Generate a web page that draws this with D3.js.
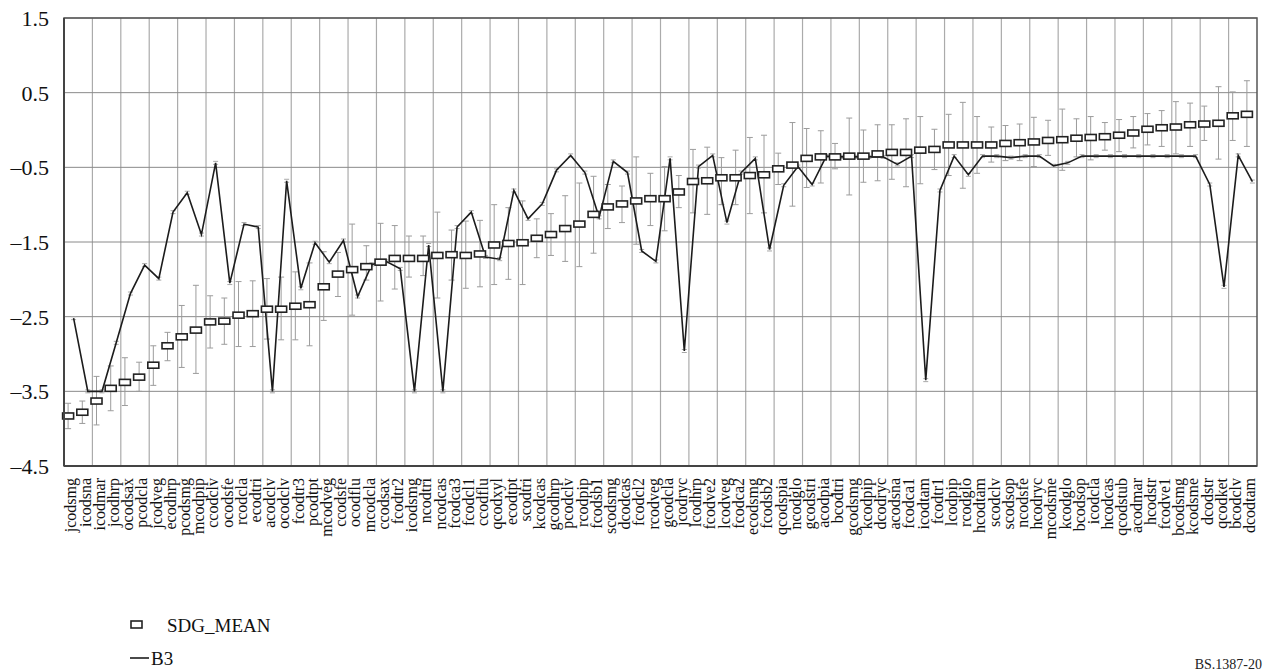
<!DOCTYPE html>
<html>
<head>
<meta charset="utf-8">
<script src="https://cdn.jsdelivr.net/npm/d3@7"></script>
<style>
  body { margin: 0; background: #fff; }
  svg { display: block; font-family: "Liberation Serif", "Times New Roman", serif; }
</style>
</head>
<body>
<svg id="chart" width="1266" height="671"></svg>
<script>
// category names along the x axis
const categories = ['jcodsmg', 'icodsna', 'icodmar', 'jcodhrp', 'ocodsax', 'pcodcla', 'jcodveg', 'ecodhrp', 'pcodsmg', 'mcodpip',
  'ccodclv', 'ocodsfe', 'rcodcla', 'ecodtri', 'acodclv', 'ocodclv', 'fcodtr3', 'pcodtpt', 'mcodveg', 'ccodsfe',
  'ocodflu', 'mcodcla', 'ccodsax', 'fcodtr2', 'icodsmg', 'ncodtri', 'ncodcas', 'fcodca3', 'fcodcl1', 'ccodflu',
  'qcodxyl', 'ecodtpt', 'scodtri', 'kcodcas', 'gcodhrp', 'pcodclv', 'rcodpip', 'fcodsb1', 'scodsmg', 'dcodcas',
  'fcodcl2', 'rcodveg', 'gcodcla', 'jcodryc', 'lcodhrp', 'fcodve2', 'lcodveg', 'fcodca2', 'ecodsmg', 'fcodsb2',
  'qcodspia', 'ncodglo', 'gcodstri', 'acodpia', 'bcodtri', 'gcodsmg', 'kcodpip', 'dcodryc', 'acodsna', 'fcodca1',
  'icodtam', 'fcodtr1', 'lcodpip', 'rcodglo', 'hcodtam', 'scodclv', 'scodsop', 'ncodsfe', 'hcodryc', 'mcodsme',
  'kcodglo', 'bcodsop', 'icodcla', 'hcodcas', 'qcodstub', 'acodmar', 'hcodstr', 'fcodve1', 'bcodsmg', 'kcodsme',
  'dcodstr', 'qcodket', 'bcodclv', 'dcodtam'];

// SDG_MEAN series (white boxes)
const sdgMean = [-3.83, -3.78, -3.63, -3.46, -3.38, -3.31, -3.15, -2.89, -2.77, -2.68,
  -2.57, -2.56, -2.48, -2.46, -2.40, -2.40, -2.36, -2.34, -2.10, -1.93,
  -1.87, -1.83, -1.77, -1.72, -1.72, -1.72, -1.68, -1.67, -1.68, -1.66,
  -1.54, -1.52, -1.51, -1.45, -1.40, -1.32, -1.26, -1.13, -1.03, -0.99,
  -0.95, -0.92, -0.92, -0.83, -0.69, -0.68, -0.64, -0.64, -0.61, -0.60,
  -0.52, -0.47, -0.38, -0.36, -0.36, -0.35, -0.35, -0.32, -0.30, -0.30,
  -0.27, -0.26, -0.20, -0.20, -0.20, -0.20, -0.18, -0.17, -0.16, -0.14,
  -0.13, -0.11, -0.10, -0.09, -0.07, -0.04, 0.01, 0.03, 0.04, 0.07,
  0.08, 0.09, 0.19, 0.21];

// upper and lower ends of the SDG_MEAN error bars
const errHigh = [-3.66, -3.63, -3.30, -3.16, -3.05, -3.11, -2.89, -2.71, -2.35, -2.08,
  -2.22, -2.25, -2.03, -2.02, -1.99, -1.97, -1.90, -1.78, -1.63, -1.64,
  -1.26, -1.55, -1.25, -1.28, -1.42, -1.42, -1.10, -1.34, -1.22, -1.21,
  -1.00, -1.04, -0.95, -1.19, -1.12, -0.88, -0.71, -0.62, -0.73, -0.75,
  -0.36, -0.58, -0.49, -0.61, -0.26, -0.23, -0.37, -0.27, -0.10, -0.07,
  -0.31, 0.10, 0.02, -0.01, -0.18, 0.16, 0.00, 0.07, 0.07, 0.15,
  0.18, 0.01, 0.21, 0.37, 0.18, 0.04, 0.06, 0.08, 0.17, 0.13,
  0.28, 0.15, 0.18, 0.10, 0.14, 0.18, 0.22, 0.26, 0.38, 0.36,
  0.32, 0.58, 0.51, 0.66];
const errLow = [-4.00, -3.93, -3.95, -3.76, -3.69, -3.50, -3.42, -3.09, -3.18, -3.26,
  -2.92, -2.87, -2.90, -2.90, -2.80, -2.81, -2.81, -2.89, -2.55, -2.23,
  -2.48, -2.01, -2.29, -2.13, -1.97, -1.95, -2.25, -2.01, -2.12, -2.10,
  -2.07, -2.00, -2.07, -1.71, -1.68, -1.76, -1.83, -1.65, -1.32, -1.24,
  -1.53, -1.28, -1.35, -1.04, -1.11, -1.13, -1.00, -1.00, -1.12, -1.11,
  -0.73, -1.02, -0.77, -0.71, -0.52, -0.87, -0.70, -0.68, -0.66, -0.76,
  -0.72, -0.53, -0.61, -0.78, -0.58, -0.43, -0.41, -0.41, -0.49, -0.34,
  -0.54, -0.36, -0.40, -0.27, -0.29, -0.24, -0.20, -0.22, -0.32, -0.22,
  -0.14, -0.39, -0.14, -0.22];

// B3 series (line)
const b3 = [-2.52, -3.50, -3.50, -2.85, -2.19, -1.81, -1.99, -1.10, -0.84, -1.40,
  -0.44, -2.05, -1.26, -1.30, -3.50, -0.68, -2.12, -1.51, -1.77, -1.48,
  -2.23, -1.80, -1.76, -1.86, -3.50, -1.54, -3.50, -1.30, -1.10, -1.70,
  -1.73, -0.81, -1.19, -0.99, -0.54, -0.34, -0.57, -1.17, -0.42, -0.57,
  -1.62, -1.76, -0.38, -2.96, -0.49, -0.34, -1.24, -0.57, -0.38, -1.60,
  -0.74, -0.49, -0.73, -0.35, -0.36, -0.36, -0.36, -0.36, -0.46, -0.35,
  -3.35, -0.81, -0.35, -0.60, -0.35, -0.35, -0.37, -0.35, -0.35, -0.48,
  -0.44, -0.35, -0.35, -0.35, -0.35, -0.35, -0.35, -0.35, -0.35, -0.35,
  -0.73, -2.10, -0.34, -0.69];

const yTicks = [1.5, 0.5, -0.5, -1.5, -2.5, -3.5, -4.5];
const seriesNames = ['SDG_MEAN', 'B3'];
const figureCode = 'BS.1387-20';

const plot = {left: 64, right: 1257, top: 18, bottom: 466};
const markShift = -3;  // boxes sit a little left of the band centre
const lineShift = 2.5; // line vertices a little right of it

const svg = d3.select('#chart');

const x = d3.scaleBand()
  .domain(categories)
  .range([plot.left, plot.right])
  .padding(0);

const y = d3.scaleLinear()
  .domain([-4.5, 1.5])
  .range([plot.bottom, plot.top]);

const mid = (c) => x(c) + x.bandwidth() / 2;

const rows = categories.map((c, i) => ({
  name: c, mean: sdgMean[i], hi: errHigh[i], lo: errLow[i], b3: b3[i]
}));

// vertical grid, one line every two categories
svg.append('g')
  .selectAll('line')
  .data(categories.filter((c, i) => i > 0 && i % 2 === 0))
  .join('line')
  .attr('x1', (c) => x(c)).attr('x2', (c) => x(c))
  .attr('y1', plot.top).attr('y2', plot.bottom)
  .attr('stroke', '#ababab')
  .attr('stroke-width', 1.2);

// horizontal grid
svg.append('g')
  .selectAll('line')
  .data(yTicks)
  .join('line')
  .attr('x1', plot.left).attr('x2', plot.right)
  .attr('y1', (d) => y(d)).attr('y2', (d) => y(d))
  .attr('stroke', '#8a8a8a')
  .attr('stroke-width', 1);

// y axis labels
svg.append('g')
  .selectAll('text')
  .data(yTicks)
  .join('text')
  .attr('x', 49)
  .attr('y', (d) => y(d))
  .attr('dy', '0.36em')
  .attr('text-anchor', 'end')
  .attr('font-size', 22)
  .attr('fill', '#111')
  .text((d) => (d < 0 ? '\u2013' : '') + d3.format('.1f')(Math.abs(d)));

// x axis labels, rotated
svg.append('g')
  .selectAll('text')
  .data(categories)
  .join('text')
  .attr('transform', (c) => `translate(${mid(c)},478) rotate(-90)`)
  .attr('dy', '0.33em')
  .attr('text-anchor', 'end')
  .attr('font-size', 16)
  .attr('fill', '#111')
  .text((c) => c);

// error bars of SDG_MEAN
const err = svg.append('g')
  .attr('stroke', '#9c9c9c')
  .attr('stroke-width', 1);

err.selectAll('.stem')
  .data(rows)
  .join('line')
  .attr('class', 'stem')
  .attr('x1', (d) => mid(d.name) + markShift).attr('x2', (d) => mid(d.name) + markShift)
  .attr('y1', (d) => y(d.hi)).attr('y2', (d) => y(d.lo));

['hi', 'lo'].forEach((k) => {
  err.selectAll('.cap-' + k)
    .data(rows)
    .join('line')
    .attr('class', 'cap-' + k)
    .attr('x1', (d) => mid(d.name) + markShift - 3).attr('x2', (d) => mid(d.name) + markShift + 3)
    .attr('y1', (d) => y(d[k])).attr('y2', (d) => y(d[k]));
});

// tiny caps on the B3 points
['-', '+'].forEach((s) => {
  svg.append('g')
    .selectAll('line')
    .data(rows)
    .join('line')
    .attr('x1', (d) => mid(d.name) + lineShift - 2.5).attr('x2', (d) => mid(d.name) + lineShift + 2.5)
    .attr('y1', (d) => y(d.b3) + (s === '-' ? 1.5 : -1.5))
    .attr('y2', (d) => y(d.b3) + (s === '-' ? 1.5 : -1.5))
    .attr('stroke', '#a8a8a8')
    .attr('stroke-width', 1);
});

// B3 line
const line = d3.line()
  .x((d) => mid(d.name) + lineShift)
  .y((d) => y(d.b3));

svg.append('path')
  .datum(rows)
  .attr('d', line)
  .attr('fill', 'none')
  .attr('stroke', '#1c1c1c')
  .attr('stroke-width', 1.6)
  .attr('stroke-linejoin', 'miter');

// SDG_MEAN boxes
svg.append('g')
  .selectAll('rect')
  .data(rows)
  .join('rect')
  .attr('x', (d) => mid(d.name) + markShift - 5.5)
  .attr('y', (d) => y(d.mean) - 3)
  .attr('width', 11)
  .attr('height', 6)
  .attr('fill', '#fff')
  .attr('stroke', '#222')
  .attr('stroke-width', 1.6);

// plot frame
svg.append('rect')
  .attr('x', plot.left).attr('y', plot.top)
  .attr('width', plot.right - plot.left).attr('height', plot.bottom - plot.top)
  .attr('fill', 'none')
  .attr('stroke', '#555')
  .attr('stroke-width', 1.5);
svg.append('line')
  .attr('x1', plot.left).attr('x2', plot.left)
  .attr('y1', plot.top).attr('y2', plot.bottom)
  .attr('stroke', '#444').attr('stroke-width', 2);
svg.append('line')
  .attr('x1', plot.left).attr('x2', plot.right)
  .attr('y1', plot.bottom).attr('y2', plot.bottom)
  .attr('stroke', '#444').attr('stroke-width', 2);

// legend
const legend = svg.append('g');
legend.append('rect')
  .attr('x', 131).attr('y', 621)
  .attr('width', 11).attr('height', 7)
  .attr('fill', '#fff').attr('stroke', '#222').attr('stroke-width', 1.6);
legend.append('text')
  .attr('x', 167).attr('y', 625).attr('dy', '0.35em')
  .attr('font-size', 19).attr('fill', '#111')
  .text(seriesNames[0]);
legend.append('line')
  .attr('x1', 130).attr('x2', 149)
  .attr('y1', 658).attr('y2', 658)
  .attr('stroke', '#1c1c1c').attr('stroke-width', 1.6);
legend.append('text')
  .attr('x', 151).attr('y', 658).attr('dy', '0.35em')
  .attr('font-size', 19).attr('fill', '#111')
  .text(seriesNames[1]);

svg.append('text')
  .attr('x', 1262).attr('y', 669)
  .attr('text-anchor', 'end')
  .attr('font-size', 14)
  .attr('fill', '#222')
  .text(figureCode);
</script>
</body>
</html>
